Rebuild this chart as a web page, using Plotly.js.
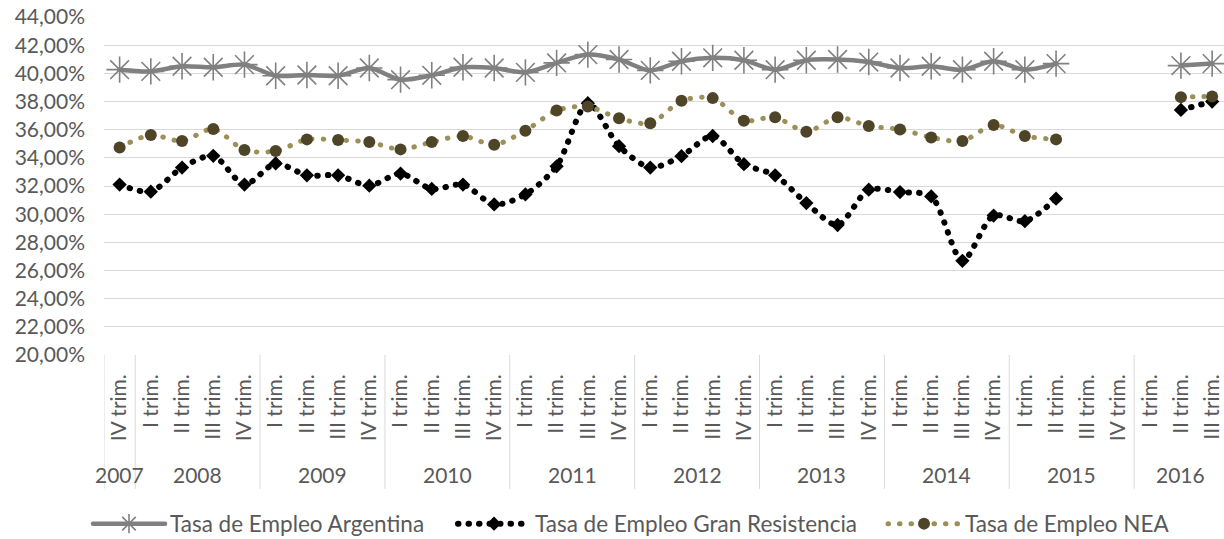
<!DOCTYPE html>
<html>
<head>
<meta charset="utf-8">
<script src="https://cdn.plot.ly/plotly-3.0.1.min.js"></script>
<style>
  html, body { margin: 0; padding: 0; background: #fff; }
  #chart { width: 1224px; height: 539px; }
  path.js-line { stroke-linecap: round; stroke-linejoin: round; }
</style>
</head>
<body>
<div id="chart"></div>
<script>
const years = ['2007',
  '2008','2008','2008','2008',
  '2009','2009','2009','2009',
  '2010','2010','2010','2010',
  '2011','2011','2011','2011',
  '2012','2012','2012','2012',
  '2013','2013','2013','2013',
  '2014','2014','2014','2014',
  '2015','2015','2015','2015',
  '2016','2016','2016'];
const quarters = ['IV trim.',
  'I trim.','II trim.','III trim.','IV trim.',
  'I trim.','II trim.','III trim.','IV trim.',
  'I trim.','II trim.','III trim.','IV trim.',
  'I trim.','II trim.','III trim.','IV trim.',
  'I trim.','II trim.','III trim.','IV trim.',
  'I trim.','II trim.','III trim.','IV trim.',
  'I trim.','II trim.','III trim.','IV trim.',
  'I trim.','II trim.','III trim.','IV trim.',
  'I trim.','II trim.','III trim.'];

const empleoArgentina = [40.26,
  40.14, 40.50, 40.43, 40.62,
  39.83, 39.88, 39.83, 40.38,
  39.55, 39.86, 40.43, 40.38,
  40.07, 40.74, 41.33, 40.98,
  40.21, 40.86, 41.10, 40.93,
  40.26, 40.93, 40.98, 40.80,
  40.38, 40.50, 40.26, 40.86,
  40.26, 40.69, null, null,
  null, 40.55, 40.69];

const empleoGranResistencia = [32.10,
  31.60, 33.31, 34.14, 32.10,
  33.60, 32.76, 32.76, 32.02,
  32.88, 31.79, 32.10, 30.69,
  31.40, 33.40, 37.88, 34.83,
  33.31, 34.12, 35.55, 33.55,
  32.76, 30.79, 29.23, 31.74,
  31.57, 31.26, 26.69, 29.90,
  29.50, 31.10, null, null,
  null, 37.40, 38.00];

const empleoNEA = [34.74,
  35.62, 35.19, 36.05, 34.55,
  34.48, 35.31, 35.26, 35.12,
  34.60, 35.12, 35.55, 34.93,
  35.93, 37.36, 37.64, 36.81,
  36.45, 38.05, 38.24, 36.64,
  36.88, 35.86, 36.88, 36.26,
  36.02, 35.45, 35.19, 36.33,
  35.55, 35.31, null, null,
  null, 38.31, 38.36];

const seriesNames = ['Tasa de Empleo Argentina', 'Tasa de Empleo Gran Resistencia', 'Tasa de Empleo NEA'];

// unique category keys (year + quarter); tick text shows only the quarter
const categories = years.map((y, i) => y + ' ' + quarters[i]);

// year groups: first/last category index of each year
const groups = [];
years.forEach((y, i) => {
  const g = groups[groups.length - 1];
  if (g && g.year === y) g.last = i; else groups.push({ year: y, first: i, last: i });
});

const traces = [
  {
    x: categories, y: empleoArgentina, name: seriesNames[0], legend: 'legend', type: 'scatter', mode: 'lines+markers',
    line: { color: '#808080', width: 4.5, shape: 'spline', smoothing: 0.8 },
    marker: { symbol: 'asterisk-open', size: 22, color: '#808080', line: { color: '#808080', width: 1.6 } }
  },
  {
    x: categories, y: empleoGranResistencia, name: seriesNames[1], legend: 'legend2', type: 'scatter', mode: 'lines+markers',
    line: { color: '#000000', width: 6, shape: 'spline', smoothing: 0.8, dash: '0.5px,10px' },
    marker: { symbol: 'diamond', size: 11, color: '#000000' }
  },
  {
    x: categories, y: empleoNEA, name: seriesNames[2], legend: 'legend3', type: 'scatter', mode: 'lines+markers',
    line: { color: '#9c8f58', width: 5, shape: 'spline', smoothing: 0.8, dash: '0.5px,11px' },
    marker: { symbol: 'circle', size: 12, color: '#4e4427' }
  }
];

const dividerShapes = [{ first: 0 }].concat(groups.slice(1)).map(g => ({
  type: 'line', xref: 'x', yref: 'paper',
  x0: g.first - 0.5, x1: g.first - 0.5, y0: 0, y1: -0.396,
  line: { color: '#d9d9d9', width: 1 }, layer: 'below'
}));

const yearAnnotations = groups.map(g => ({
  xref: 'x', yref: 'paper',
  x: (g.first + g.last) / 2, y: -0.355,
  xanchor: 'center', yanchor: 'middle',
  text: g.year, showarrow: false,
  font: { size: 21, color: '#595959' }
}));

function legendAt(xPx) {
  return {
    orientation: 'h', xref: 'container', x: xPx / 1224, xanchor: 'left',
    y: -0.5, yanchor: 'middle', font: { size: 22.5, color: '#595959' },
    itemwidth: 72, bgcolor: 'rgba(0,0,0,0)', borderwidth: 0
  };
}

const layout = {
  width: 1224, height: 539,
  margin: { l: 104, r: 0, t: 17, b: 184, pad: 0, autoexpand: false },
  paper_bgcolor: '#ffffff', plot_bgcolor: '#ffffff',
  font: { family: 'Lato, "Open Sans", sans-serif', size: 21, color: '#595959' },
  separators: ',.',
  showlegend: true,
  legend: legendAt(88),
  legend2: legendAt(453),
  legend3: legendAt(883),
  xaxis: {
    type: 'category',
    range: [-0.5, 35.38],
    automargin: false,
    tickmode: 'array', tickvals: categories, ticktext: quarters,
    showgrid: false, zeroline: false, showline: false,
    ticks: '', tickangle: -90, ticklabelstandoff: 14,
    tickfont: { size: 21, color: '#595959' }
  },
  yaxis: {
    range: [20, 44], dtick: 2, tick0: 20,
    automargin: false,
    tickformat: '.2f', ticksuffix: '%',
    ticklabelstandoff: 18,
    showgrid: true, gridcolor: '#d9d9d9', gridwidth: 1,
    zeroline: false, showline: false, ticks: '',
    tickfont: { size: 21, color: '#595959' }
  },
  shapes: dividerShapes,
  annotations: yearAnnotations
};

Plotly.newPlot('chart', traces, layout, { displayModeBar: false, staticPlot: true });
</script>
</body>
</html>
